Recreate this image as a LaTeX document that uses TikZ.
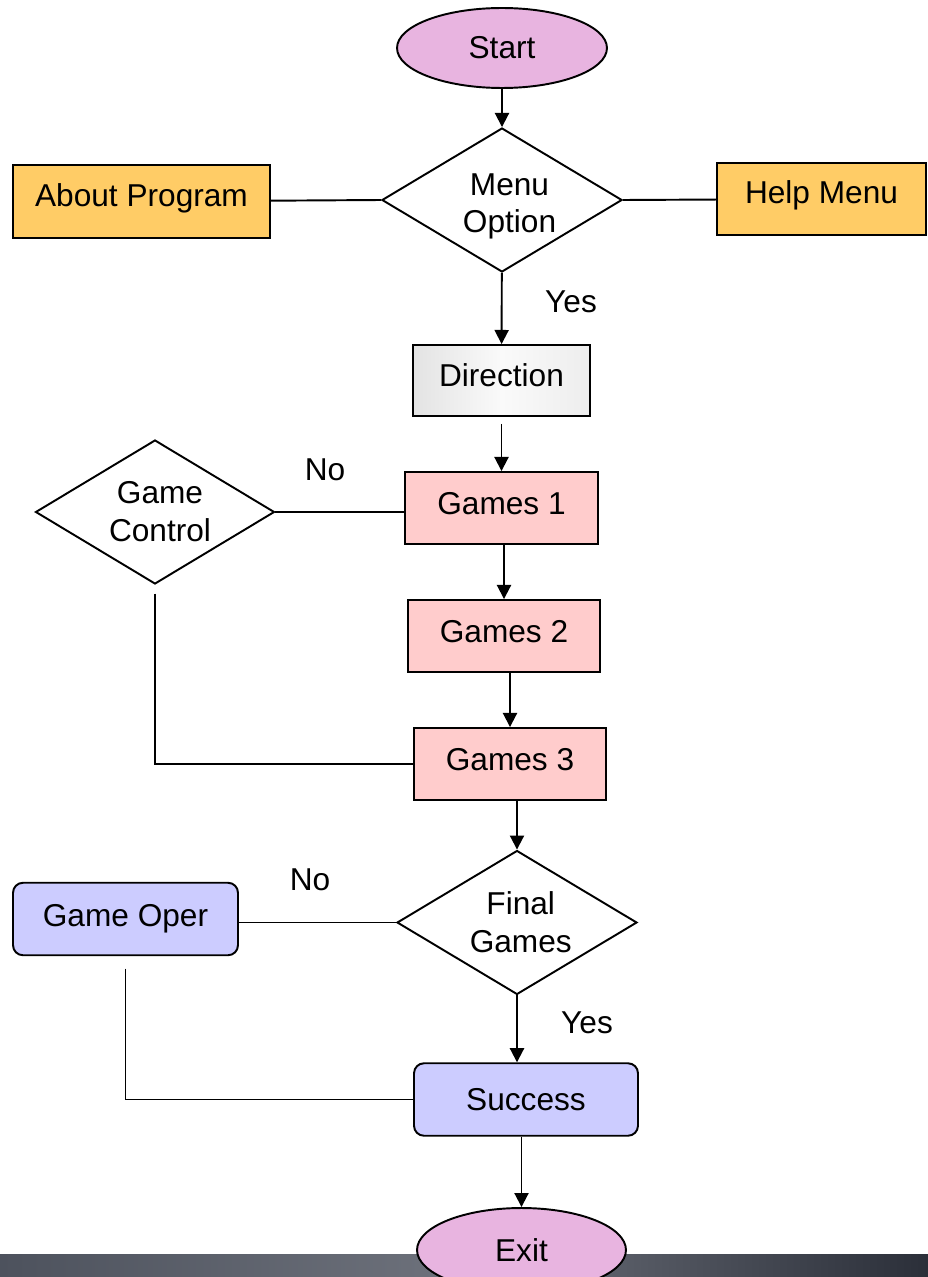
\documentclass[tikz,border=0pt]{standalone}
\usepackage{fontspec}
\setmainfont{Liberation Sans}
\usetikzlibrary{shapes.geometric,arrows.meta}
\definecolor{termpink}{HTML}{E8B4E0}
\definecolor{boxorange}{HTML}{FFCC66}
\definecolor{gamepink}{HTML}{FFCCCC}
\definecolor{operblue}{HTML}{CCCCFF}
\definecolor{barleft}{HTML}{4D525D}
\definecolor{barmid}{HTML}{6E727C}
\definecolor{barright}{HTML}{2B2F39}
\tikzset{
  terminal/.style={ellipse,draw,fill=termpink,inner sep=0pt},
  decision/.style={diamond,draw,fill=white,align=center,inner sep=0pt,aspect=1.67,minimum width=4.8cm,minimum height=2.88cm},
  menubox/.style={rectangle,draw,fill=boxorange,minimum height=1.45cm,text height=0.4cm,text depth=0.2cm},
  gamebox/.style={rectangle,draw,fill=gamepink,minimum width=3.85cm,minimum height=1.44cm,text height=0.45cm,text depth=0.2cm},
  operbox/.style={rectangle,draw,rounded corners=0.2cm,fill=operblue,minimum height=1.45cm},
  dirbox/.style={rectangle,draw,left color=gray!22,right color=gray!14,middle color=gray!4,minimum width=3.54cm,minimum height=1.42cm,text height=0.45cm,text depth=0.2cm},
  arr/.style={-{Triangle[length=8pt,width=8pt]}},
  lbl/.style={inner sep=0pt}
}
\begin{document}
\begin{tikzpicture}[x=0.02cm,y=-0.02cm,line width=1.1pt,font=\fontsize{18}{21.6}\selectfont]
  \useasboundingbox (0,0) rectangle (928,1277);
  % dark strip along the bottom edge
  \shade[left color=barleft,right color=barright,middle color=barmid] (0,1254) rectangle (928,1277);

  \node[terminal,minimum width=4.2cm,minimum height=1.6cm] (start) at (502,48) {Start};
  \node[decision,text height=1.45cm] (menu) at (502,200) {\hspace*{0.3cm}Menu\\\hspace*{0.3cm}Option};
  \node[menubox,minimum width=5.14cm] (about) at (141.5,201.5) {About Program};
  \node[menubox,minimum width=4.18cm] (help) at (821.5,199) {Help Menu};
  \node[dirbox] (dir) at (501.5,380.5) {Direction};
  \node[gamebox] (g1) at (501.5,508) {Games 1};
  \node[decision,minimum width=4.78cm] (gctrl) at (155,512) {\hspace*{0.2cm}Game\\\hspace*{0.2cm}Control};
  \node[gamebox] (g2) at (504,636) {Games 2};
  \node[gamebox] (g3) at (510,764) {Games 3};
  \node[decision] (final) at (517,922.5) {\hspace*{0.15cm}Final\\\hspace*{0.15cm}Games};
  \node[operbox,minimum width=4.5cm] (oper) at (125.5,919) {Game Oper};
  \node[operbox,minimum width=4.48cm] (succ) at (526,1099.5) {Success};
  \node[terminal,minimum width=4.18cm,minimum height=1.68cm] (exit) at (521.5,1250) {Exit};

  % branch labels
  \node[lbl] (yes1) at (571,302) {Yes};
  \node[lbl] (no1) at (325,470) {No};
  \node[lbl] (no2) at (310,880) {No};
  \node[lbl] (yes2) at (587,1023) {Yes};

  % main flow
  \draw[arr] (start) -- (menu);
  \draw (about) -- (menu.west);
  \draw (menu.east) -- (help);
  \draw[arr] (menu) -- (dir);
  \draw[arr,shorten <=4pt] (dir) -- (g1);
  \draw[arr] (g1.south -| g2.north) -- (g2.north);
  \draw[arr] (g2.south -| g3.north) -- (g3.north);
  \draw[arr] (g3.south -| final.north) -- (final.north);
  \draw[arr] (final.south) -- (final.south |- succ.north);
  \draw[arr] (succ.south -| exit.north) -- (exit.north);

  % side loops
  \draw (gctrl.east) -- (gctrl.east -| g1.west);
  \draw[shorten <=5pt] (gctrl.south) |- (g3.west);
  \draw (final.west) -- (final.west -| oper.east);
  \draw[shorten <=7pt] (oper.south) |- (succ.west);
\end{tikzpicture}
\end{document}
